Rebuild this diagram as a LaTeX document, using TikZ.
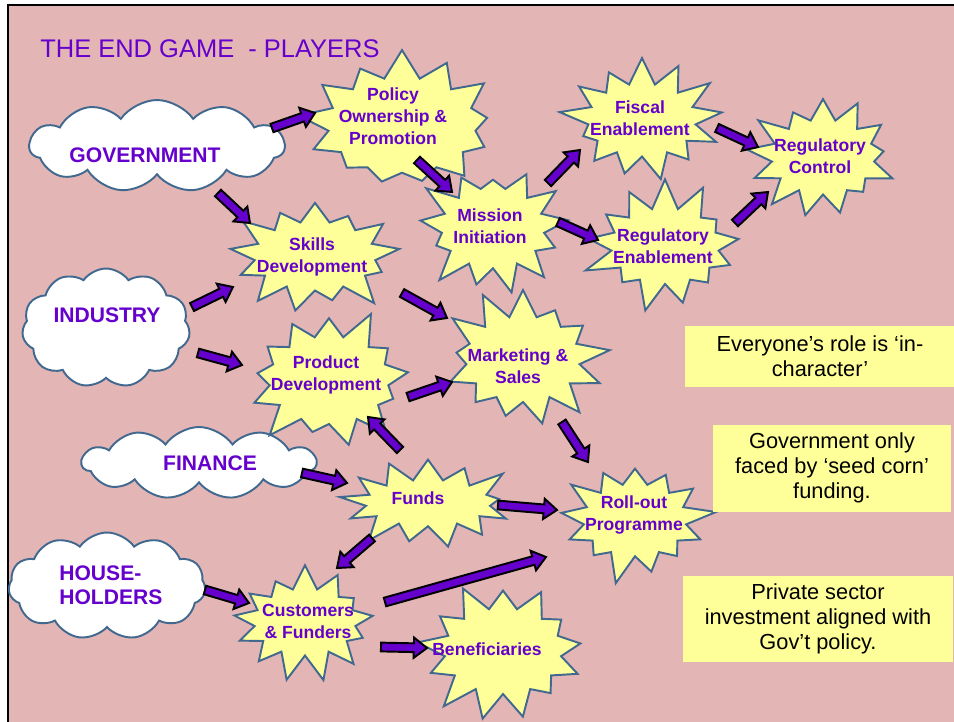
\documentclass[tikz,border=0pt]{standalone}
\usepackage{fontspec}
\setmainfont{Liberation Sans}
\usetikzlibrary{shapes.symbols,calc}
\definecolor{bg}{HTML}{E3B5B5}
\definecolor{pur}{HTML}{6600CC}
\definecolor{burstfill}{HTML}{FFFF99}
\definecolor{edge}{HTML}{41698F}
\definecolor{notefill}{HTML}{FFFF99}
\newcommand{\blockarrow}[2]{%
  \coordinate (tmph) at ($(#2)!7.5pt!(#1)$);
  \draw[barrow] ($(#1)!2.5pt!90:(#2)$) -- ($(tmph)!2.5pt!90:(#2)$) -- ($(tmph)!5.8pt!90:(#2)$) -- (#2)
    -- ($(tmph)!5.8pt!-90:(#2)$) -- ($(tmph)!2.5pt!-90:(#2)$) -- ($(#1)!2.5pt!-90:(#2)$) -- cycle;}
\begin{document}
\begin{tikzpicture}[x=0.02cm,y=-0.02cm,
  burst/.style={starburst, draw=edge, fill=burstfill, line width=1.1pt, starburst points=13,
    starburst point height=0.62cm, inner sep=0pt},
  cloudy/.style={cloud, cloud puffs=11, cloud puff arc=110, cloud ignores aspect, draw=edge,
    fill=white, line width=1.1pt, inner sep=0pt},
  btext/.style={text=pur, font=\bfseries\fontsize{10}{12.5}\selectfont, align=center, inner sep=0pt},
  ctext/.style={text=pur, font=\bfseries\fontsize{12}{13.7}\selectfont, align=left, inner sep=0pt},
  notebox/.style={fill=notefill, text=black, font=\fontsize{12.4}{14.2}\selectfont, align=center, inner sep=0pt},
  barrow/.style={fill=pur, draw=black, line width=1.1pt, line join=miter}]
\useasboundingbox (0,0) rectangle (954,721);
\fill[white] (0,0) rectangle (954,721);
\filldraw[fill=bg, draw=black, line width=1.5pt] (8,5) rectangle (980,760);

\node[text=pur, font=\fontsize{14.5}{16}\selectfont, anchor=base west, inner sep=0pt] (title) at (40,57) {THE END GAME~~- PLAYERS};

% clouds
\node[cloudy, minimum width=5.1cm, minimum height=1.84cm] (gov) at (157,146) {};
\node[ctext] (govt) at (145,155) {GOVERNMENT};
\node[cloudy, minimum width=3.36cm, minimum height=2.38cm] (ind) at (106,328) {};
\node[ctext] (indt) at (107,315) {INDUSTRY};
\node[cloudy, minimum width=4.68cm, minimum height=1.44cm] (fin) at (199,463) {};
\node[ctext] (fint) at (210,463) {FINANCE};
\node[cloudy, minimum width=3.94cm, minimum height=2.14cm] (hou) at (107,586) {};
\node[ctext, anchor=west] (hout) at (59,585) {HOUSE-\\HOLDERS};

% bursts
\node[burst, random starburst=17, minimum width=4.2cm, minimum height=3.15cm] (pol) at (402,125) {};
\node[btext] (polt) at (393,116) {Policy\\Ownership \&\\Promotion};
\node[burst, random starburst=23, minimum width=3.3cm, minimum height=2.85cm] (mis) at (493,228) {};
\node[btext] (mist) at (490,226) {Mission\\Initiation};
\node[burst, random starburst=37, minimum width=3.4cm, minimum height=2.7cm] (fis) at (642,120) {};
\node[btext] (fist) at (640,118) {Fiscal\\Enablement};
\node[burst, random starburst=41, minimum width=3.3cm, minimum height=2.74cm] (rco) at (823,157) {};
\node[btext] (rcot) at (820,156) {Regulatory\\Control};
\node[burst, random starburst=53, minimum width=3.4cm, minimum height=2.76cm] (ren) at (665,246) {};
\node[btext] (rent) at (663,246) {Regulatory\\Enablement};
\node[burst, random starburst=61, minimum width=3.67cm, minimum height=2.62cm] (ski) at (315,256) {};
\node[btext] (skit) at (312,257) {Skills\\Development};
\node[burst, random starburst=71, minimum width=3.63cm, minimum height=3.0cm] (pro) at (329,380) {};
\node[btext] (prot) at (326,375) {Product\\Development};
\node[burst, random starburst=83, minimum width=3.52cm, minimum height=2.96cm] (mkt) at (523,359) {};
\node[btext] (mktt) at (518,366) {Marketing \&\\Sales};
\node[burst, random starburst=97, minimum width=3.74cm, minimum height=2.17cm] (fun) at (428,503) {};
\node[btext] (funt) at (418,498) {Funds};
\node[burst, random starburst=101, minimum width=3.3cm, minimum height=2.69cm] (rol) at (635,520) {};
\node[btext] (rolt) at (634,515) {Roll-out\\Programme};
\node[burst, random starburst=113, minimum width=3.27cm, minimum height=2.58cm] (cus) at (305,622) {};
\node[btext] (cust) at (308,621) {Customers\\\& Funders};
\node[burst, random starburst=127, minimum width=3.58cm, minimum height=2.96cm] (ben) at (503,651) {};
\node[btext] (bent) at (487,649) {Beneficiaries};

% notes
\node[notebox, minimum width=5.4cm, minimum height=1.22cm] (n1) at (820,356) {Everyone’s role is ‘in-\\character’};
\node[notebox, minimum width=4.78cm, minimum height=1.74cm] (n2) at (832,468) {Government only\\faced by ‘seed corn’\\funding.};
\node[notebox, minimum width=5.42cm, minimum height=1.72cm] (n3) at (818,619) {Private sector\\investment aligned with\\Gov’t policy.};

% arrow end points
\coordinate (govpolA) at (272,128); \coordinate (govpolB) at (315,113);
\coordinate (govskiA) at (218,193); \coordinate (govskiB) at (250,223);
\coordinate (polmisA) at (417,160); \coordinate (polmisB) at (452,192);
\coordinate (misfisA) at (548,183); \coordinate (misfisB) at (580,150);
\coordinate (misrenA) at (558,222); \coordinate (misrenB) at (598,240);
\coordinate (fisrcoA) at (717,128); \coordinate (fisrcoB) at (758,147);
\coordinate (renrcoA) at (735,223); \coordinate (renrcoB) at (768,192);
\coordinate (indskiA) at (192,307); \coordinate (indskiB) at (233,287);
\coordinate (indproA) at (198,353); \coordinate (indproB) at (242,365);
\coordinate (skimktA) at (402,293); \coordinate (skimktB) at (447,318);
\coordinate (promktA) at (408,397); \coordinate (promktB) at (452,382);
\coordinate (funproA) at (400,450); \coordinate (funproB) at (368,417);
\coordinate (finfunA) at (302,473); \coordinate (finfunB) at (347,483);
\coordinate (mktrolA) at (562,422); \coordinate (mktrolB) at (588,462);
\coordinate (funrolA) at (498,505); \coordinate (funrolB) at (557,510);
\coordinate (funcusA) at (372,538); \coordinate (funcusB) at (337,568);
\coordinate (houcusA) at (205,590); \coordinate (houcusB) at (249,603);
\coordinate (cusrolA) at (385,602); \coordinate (cusrolB) at (546,557);
\coordinate (cusbenA) at (381,647); \coordinate (cusbenB) at (427,648);

\blockarrow{govpolA}{govpolB}
\blockarrow{govskiA}{govskiB}
\blockarrow{polmisA}{polmisB}
\blockarrow{misfisA}{misfisB}
\blockarrow{misrenA}{misrenB}
\blockarrow{fisrcoA}{fisrcoB}
\blockarrow{renrcoA}{renrcoB}
\blockarrow{indskiA}{indskiB}
\blockarrow{indproA}{indproB}
\blockarrow{skimktA}{skimktB}
\blockarrow{promktA}{promktB}
\blockarrow{funproA}{funproB}
\blockarrow{finfunA}{finfunB}
\blockarrow{mktrolA}{mktrolB}
\blockarrow{funrolA}{funrolB}
\blockarrow{funcusA}{funcusB}
\blockarrow{houcusA}{houcusB}
\blockarrow{cusrolA}{cusrolB}
\blockarrow{cusbenA}{cusbenB}
\end{tikzpicture}
\end{document}
